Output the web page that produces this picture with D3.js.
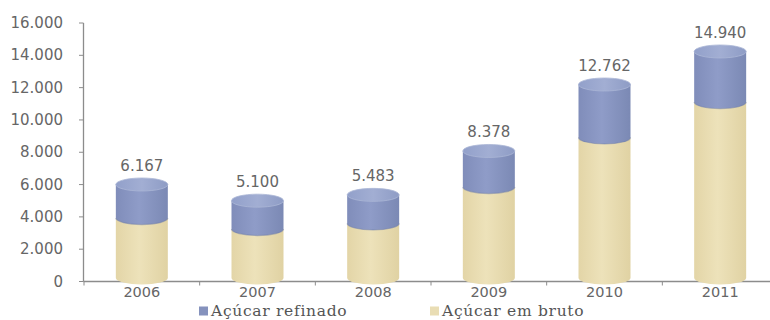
<!DOCTYPE html>
<html>
<head>
<meta charset="utf-8">
<script src="https://cdn.jsdelivr.net/npm/d3@7"></script>
<style>
  html, body { margin: 0; padding: 0; background: #fff; }
  svg { display: block; }
</style>
</head>
<body>
<svg id="chart" width="770" height="320"></svg>
<script>
// Exportações de açúcar por ano (toneladas)
const years = ["2006", "2007", "2008", "2009", "2010", "2011"];
const bruto = [3950, 3230, 3600, 6000, 9270, 11600];
const refinado = [2217, 1870, 1883, 2378, 3492, 3340];
const yTicks = [0, 2000, 4000, 6000, 8000, 10000, 12000, 14000, 16000];
const seriesNames = ["Açúcar refinado", "Açúcar em bruto"];

const W = 770, H = 320;
const svg = d3.select("#chart");

const ptBR = d3.formatLocale({ decimal: ",", thousands: ".", grouping: [3], currency: ["R$", ""] });
const fmt = ptBR.format(",d");

// axis on the back wall
const y = d3.scaleLinear().domain([0, 16000]).range([281.5, 23]);
// cylinders stand a little in front of the wall, so their plane is slightly compressed
const yBar = d3.scaleLinear().domain([0, 16000]).range([278, 35.4]);
const x = d3.scaleBand().domain(years).range([84, 778]);

const barW = 52, rx = barW / 2, ry = 6.5;
const axisColor = "#8c8c8c";
const textColor = "#666";

// gradients for cylinder bodies and tops
const defs = svg.append("defs");
function hGrad(id, stops) {
  const g = defs.append("linearGradient").attr("id", id)
    .attr("x1", "0%").attr("x2", "100%").attr("y1", "0%").attr("y2", "0%");
  stops.forEach(([o, c]) => g.append("stop").attr("offset", o).attr("stop-color", c));
}
hGrad("blueBody", [["0%", "#808dba"], ["45%", "#8f9cc8"], ["100%", "#7b89b4"]]);
hGrad("blueTop", [["0%", "#92a0ca"], ["50%", "#a2aed3"], ["100%", "#8e9cc5"]]);
hGrad("beigeBody", [["0%", "#e3d5a7"], ["45%", "#ede2ba"], ["100%", "#e0d2a3"]]);

// y axis
const yAxisG = svg.append("g");
yAxisG.append("line")
  .attr("x1", 83.5).attr("x2", 83.5)
  .attr("y1", y(16000)).attr("y2", y(0))
  .attr("stroke", axisColor).attr("stroke-width", 1.3);
yAxisG.selectAll("line.tick").data(yTicks).join("line")
  .attr("class", "tick")
  .attr("x1", 79).attr("x2", 83.5)
  .attr("y1", d => y(d)).attr("y2", d => y(d))
  .attr("stroke", axisColor).attr("stroke-width", 1);
yAxisG.selectAll("text").data(yTicks).join("text")
  .attr("x", 63).attr("y", d => y(d) + 5)
  .attr("text-anchor", "end")
  .attr("font-family", "DejaVu Sans, sans-serif")
  .attr("font-size", 15)
  .attr("fill", textColor)
  .text(d => fmt(d));

// x axis
const xAxisG = svg.append("g");
xAxisG.append("line")
  .attr("x1", 83.5).attr("x2", W)
  .attr("y1", y(0)).attr("y2", y(0))
  .attr("stroke", axisColor).attr("stroke-width", 1.6);
const bounds = years.map(d => x(d)).concat([x(years[years.length - 1]) + x.bandwidth()]);
xAxisG.selectAll("line.tick").data(bounds).join("line")
  .attr("class", "tick")
  .attr("x1", d => d).attr("x2", d => d)
  .attr("y1", y(0)).attr("y2", y(0) + 4)
  .attr("stroke", axisColor).attr("stroke-width", 1);

// cylinders
function bodyPath(cx, yTop, yBot) {
  const x0 = cx - rx, x1 = cx + rx;
  return `M${x0},${yTop} L${x0},${yBot} A${rx},${ry} 0 0 0 ${x1},${yBot} L${x1},${yTop} Z`;
}

const bars = svg.append("g");
years.forEach((yr, i) => {
  const cx = x(yr) + x.bandwidth() / 2;
  const b = bruto[i], r = refinado[i], total = b + r;
  const g = bars.append("g");
  // em bruto (lower segment)
  g.append("path")
    .attr("d", bodyPath(cx, yBar(b), yBar(0)))
    .attr("fill", "url(#beigeBody)");
  // refinado (upper segment), its base rests on top of the lower one
  g.append("path")
    .attr("d", bodyPath(cx, yBar(total), yBar(b)))
    .attr("fill", "url(#blueBody)");
  // shading along the seam
  g.append("path")
    .attr("d", `M${cx - rx},${yBar(b)} A${rx},${ry} 0 0 0 ${cx + rx},${yBar(b)}`)
    .attr("fill", "none").attr("stroke", "#7482aa").attr("stroke-width", 1.2).attr("opacity", 0.5);
  // top face
  g.append("ellipse")
    .attr("cx", cx).attr("cy", yBar(total))
    .attr("rx", rx).attr("ry", ry)
    .attr("fill", "url(#blueTop)")
    .attr("stroke", "#abb6d6").attr("stroke-width", 0.8);
  // total label
  g.append("text")
    .attr("x", cx).attr("y", yBar(total) - ry - 7)
    .attr("text-anchor", "middle")
    .attr("font-family", "DejaVu Sans, sans-serif")
    .attr("font-size", 15)
    .attr("fill", textColor)
    .text(fmt(total));
});

// category labels
svg.append("g").selectAll("text").data(years).join("text")
  .attr("x", d => x(d) + x.bandwidth() / 2)
  .attr("y", 297)
  .attr("text-anchor", "middle")
  .attr("font-family", "DejaVu Sans, sans-serif")
  .attr("font-size", 14.5)
  .attr("fill", textColor)
  .text(d => d);

// legend
const legendItems = [
  { name: seriesNames[0], color: "#8592bd", x: 199 },
  { name: seriesNames[1], color: "#e9ddb4", x: 430 }
];
const leg = svg.append("g").selectAll("g").data(legendItems).join("g")
  .attr("transform", d => `translate(${d.x},0)`);
leg.append("rect")
  .attr("x", 0).attr("y", 306.5).attr("width", 9).attr("height", 9)
  .attr("fill", d => d.color);
leg.append("text")
  .attr("x", 12).attr("y", 315.5)
  .attr("font-family", "DejaVu Serif, serif")
  .attr("font-size", 15.5)
  .attr("letter-spacing", 0.7)
  .attr("fill", "#555")
  .text(d => d.name);
</script>
</body>
</html>
